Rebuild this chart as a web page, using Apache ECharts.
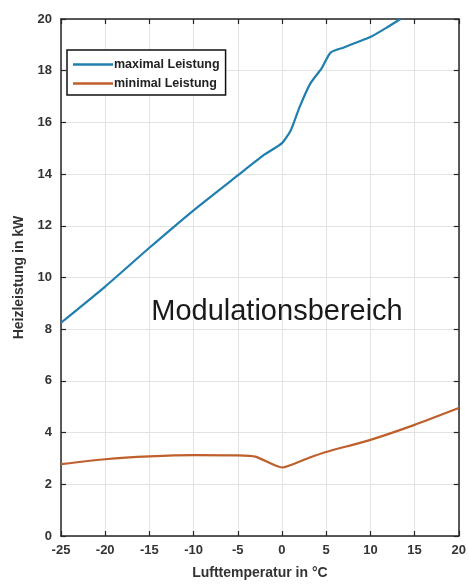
<!DOCTYPE html>
<html>
<head>
<meta charset="utf-8">
<script src="https://cdn.jsdelivr.net/npm/echarts@6/dist/echarts.min.js"></script>
<style>
html, body { margin: 0; padding: 0; background: #fff; }
#chart { width: 469px; height: 585px; }
</style>
</head>
<body>
<div id="chart"></div>
<script>
// Lufttemperatur (°C) / Heizleistung (kW)
var maxTemp = [-25, -20, -15, -10, -5, -2, 0, 1, 2, 3.2, 4.5, 5.5, 7, 8.5, 10, 12, 13.4];
var maxPower = [8.25, 9.65, 11.15, 12.6, 13.95, 14.75, 15.2, 15.7, 16.6, 17.5, 18.1, 18.7, 18.9, 19.1, 19.3, 19.7, 20.0];
var minTemp = [-25, -20, -15, -10, -5, -3, 0, 3, 5, 10, 15, 20];
var minPower = [2.78, 2.97, 3.08, 3.13, 3.12, 3.07, 2.65, 3.02, 3.25, 3.72, 4.3, 4.95];
var seriesNames = ['maximal Leistung', 'minimal Leistung'];
var areaLabel = 'Modulationsbereich';

function pairs(xs, ys) {
	return xs.map(function (x, i) { return [x, ys[i]]; });
}

var axisColor = '#262626';
var gridColor = '#e3e3e3';
var font = 'Liberation Sans, Arial, sans-serif';

var myChart = echarts.init(document.getElementById('chart'));
var option = {
	animation: false,
	color: ['#1f7fae', '#bf5f2c'],
	grid: { left: 61, right: 10, top: 19, bottom: 48 },
	legend: {
		orient: 'vertical',
		left: 67,
		top: 50,
		data: seriesNames,
		icon: 'rect',
		backgroundColor: '#fff',
		borderColor: '#111',
		borderWidth: 1.5,
		borderRadius: 0,
		padding: [8, 6, 5, 6],
		itemWidth: 40,
		itemHeight: 2.5,
		itemGap: 6,
		textStyle: { fontFamily: font, fontWeight: 'bold', fontSize: 12.5, color: '#222', padding: [0, 0, 0, -4] }
	},
	xAxis: [
		{
			type: 'value', min: -25, max: 20, interval: 5,
			name: 'Lufttemperatur in °C', nameLocation: 'middle', nameGap: 30,
			nameTextStyle: { fontFamily: font, fontWeight: 'bold', fontSize: 14, color: '#333' },
			axisLine: { onZero: false, lineStyle: { color: axisColor, width: 1.5 } },
			axisTick: { inside: true, length: 5, lineStyle: { color: axisColor, width: 1.2 } },
			axisLabel: { fontFamily: font, fontWeight: 'bold', fontSize: 13, color: '#333', margin: 8 },
			splitLine: { show: true, lineStyle: { color: gridColor, width: 1 } }
		},
		{
			type: 'value', min: -25, max: 20, interval: 5, position: 'top',
			axisLine: { onZero: false, lineStyle: { color: axisColor, width: 1.5 } },
			axisTick: { inside: true, length: 5, lineStyle: { color: axisColor, width: 1.2 } },
			axisLabel: { show: false },
			splitLine: { show: false }
		}
	],
	yAxis: [
		{
			type: 'value', min: 0, max: 20, interval: 2,
			name: 'Heizleistung in kW', nameLocation: 'middle', nameGap: 33,
			nameTextStyle: { fontFamily: font, fontWeight: 'bold', fontSize: 14, color: '#333' },
			axisLine: { show: true, onZero: false, lineStyle: { color: axisColor, width: 1.5 } },
			axisTick: { show: true, inside: true, length: 5, lineStyle: { color: axisColor, width: 1.2 } },
			axisLabel: { fontFamily: font, fontWeight: 'bold', fontSize: 13, color: '#333', margin: 9 },
			splitLine: { show: true, lineStyle: { color: gridColor, width: 1 } }
		},
		{
			type: 'value', min: 0, max: 20, interval: 2, position: 'right',
			axisLine: { show: true, onZero: false, lineStyle: { color: axisColor, width: 1.5 } },
			axisTick: { show: true, inside: true, length: 5, lineStyle: { color: axisColor, width: 1.2 } },
			axisLabel: { show: false },
			splitLine: { show: false }
		}
	],
	graphic: [
		{
			type: 'text',
			x: 277,
			y: 312,
			z: 10,
			style: {
				text: areaLabel,
				fontFamily: font,
				fontSize: 29,
				fill: '#1a1a1a',
				textAlign: 'center',
				textVerticalAlign: 'middle'
			}
		}
	],
	series: [
		{
			name: seriesNames[0],
			type: 'line',
			data: pairs(maxTemp, maxPower),
			symbol: 'none',
			smooth: 0.2,
			lineStyle: { width: 2.2 },
			z: 3
		},
		{
			name: seriesNames[1],
			type: 'line',
			data: pairs(minTemp, minPower),
			symbol: 'none',
			smooth: 0.2,
			lineStyle: { width: 2.2 },
			z: 3
		}
	]
};
myChart.setOption(option);
</script>
</body>
</html>
